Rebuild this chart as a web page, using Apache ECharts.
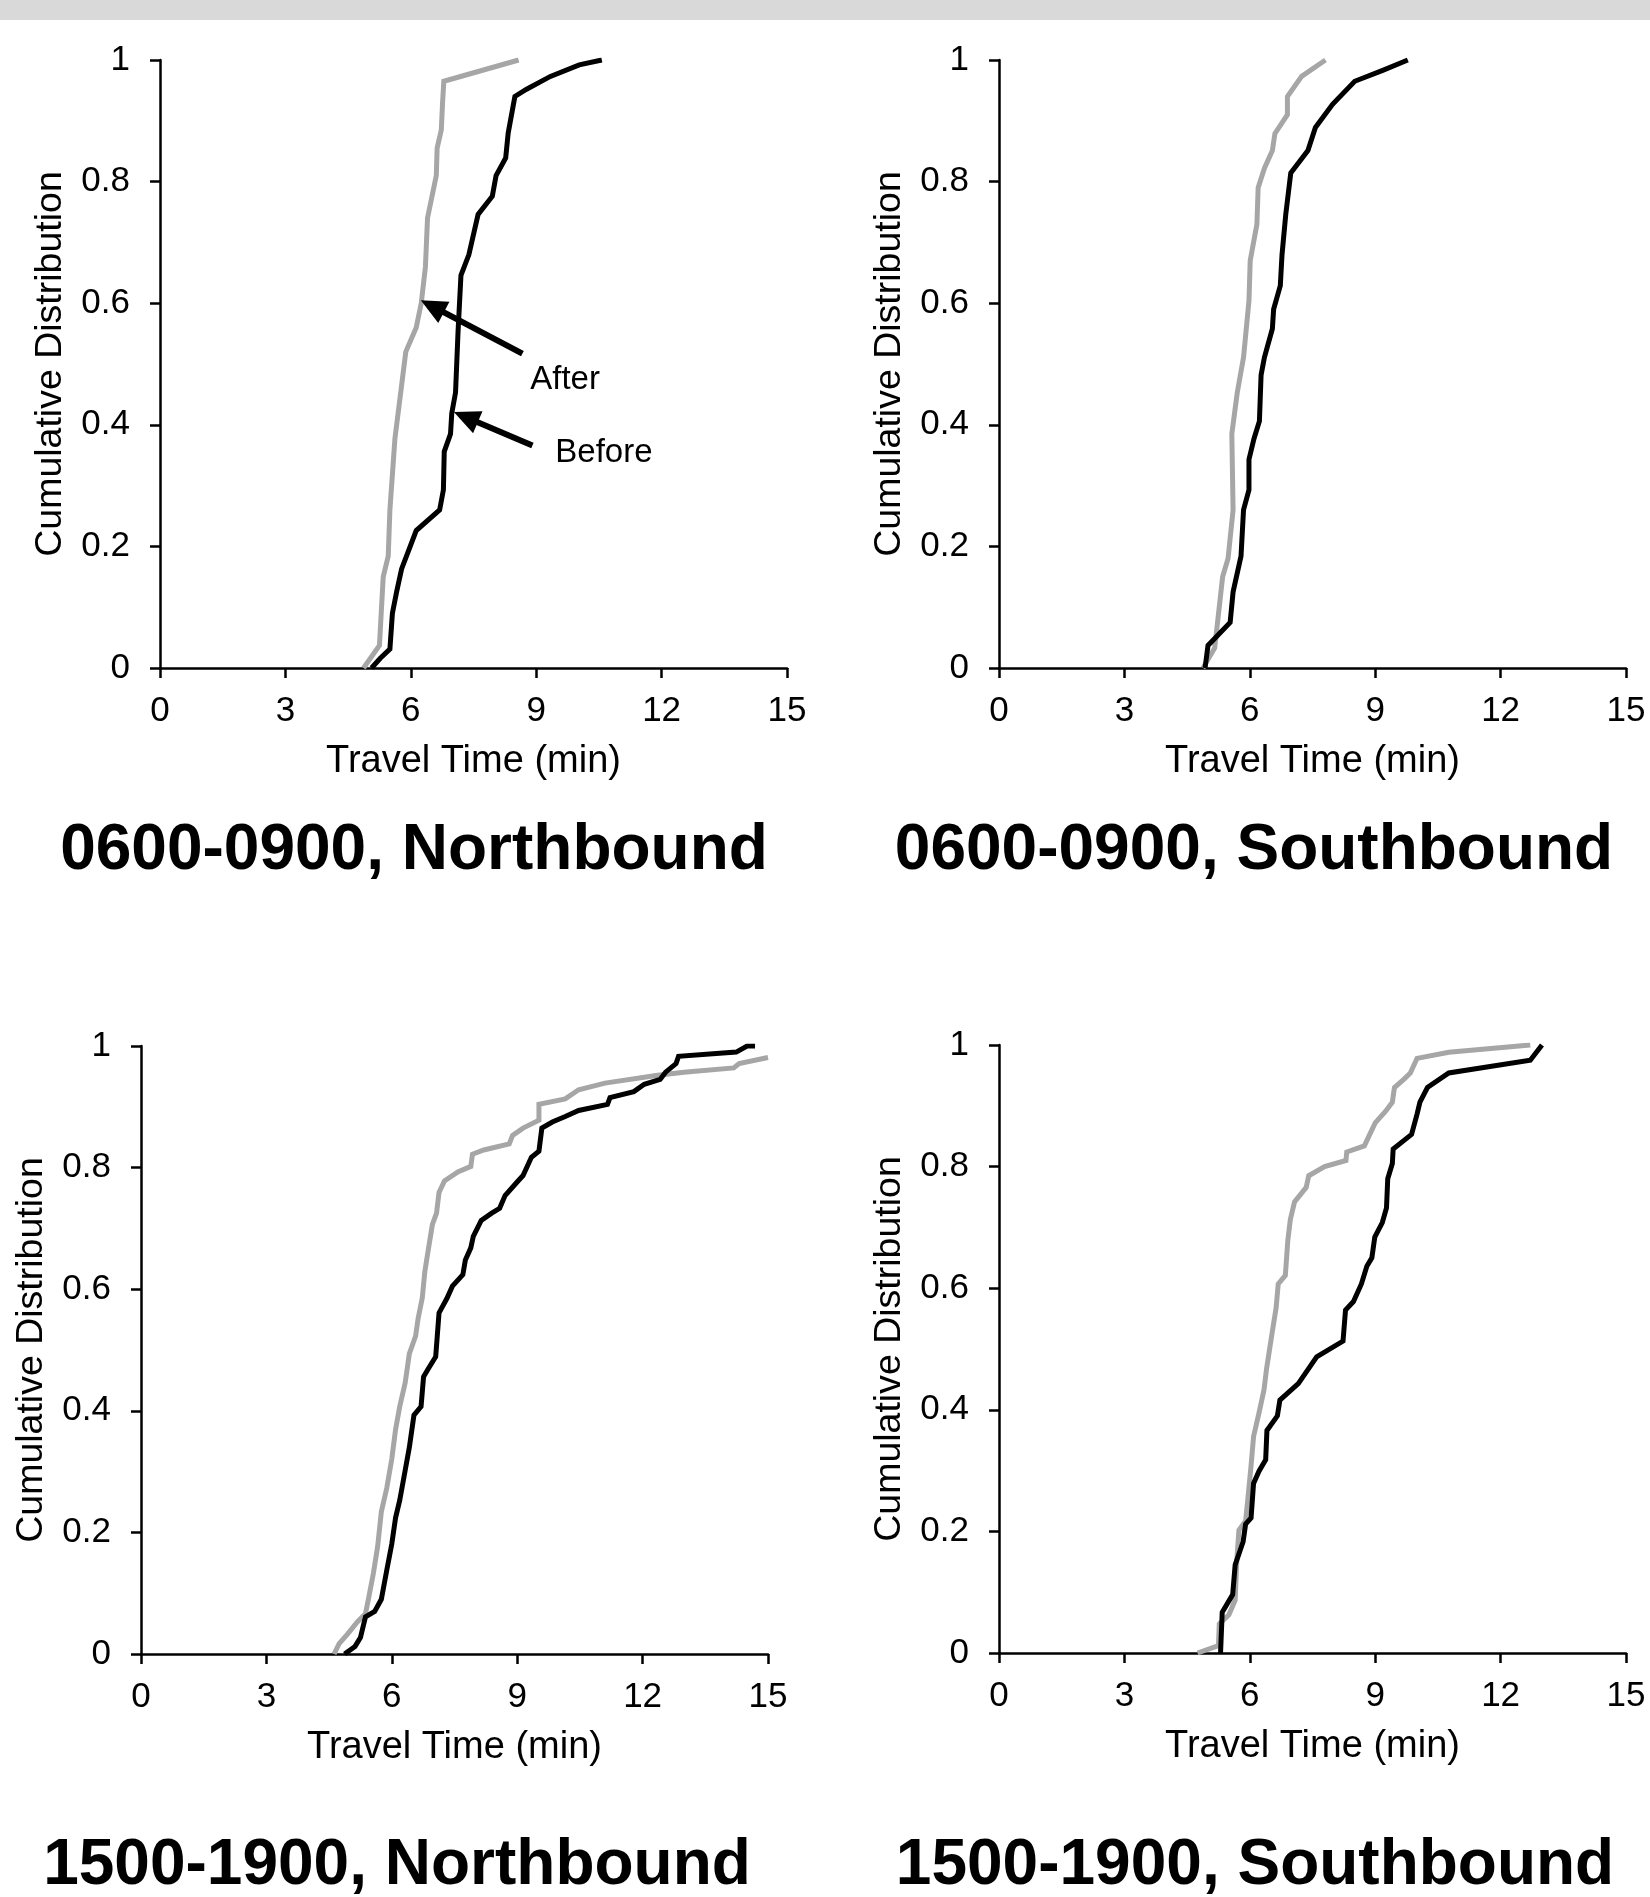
<!DOCTYPE html>
<html><head><meta charset="utf-8">
<script src="https://cdn.jsdelivr.net/npm/echarts@6/dist/echarts.min.js"></script>
<style>html,body{margin:0;padding:0;background:#fff}#c{width:1650px;height:1897px}</style>
</head><body><div id="c"></div><script>
// ---------- data ----------
const panelTitles = ['0600-0900, Northbound', '0600-0900, Southbound', '1500-1900, Northbound', '1500-1900, Southbound'];
const xName = 'Travel Time (min)';
const yName = 'Cumulative Distribution';
const xTickLabels = ['0', '3', '6', '9', '12', '15'];
const yTickLabels = ['0', '0.2', '0.4', '0.6', '0.8', '1'];
const seriesNames = ['After', 'Before'];

const amNorthAfter = [[4.87,0],[5.25,0.037],[5.34,0.15],[5.46,0.184],[5.5,0.26],[5.62,0.377],[5.88,0.52],[6.13,0.56],[6.25,0.6],[6.35,0.66],[6.4,0.74],[6.61,0.81],[6.63,0.855],[6.73,0.885],[6.76,0.93],[6.79,0.965],[8.58,1.0]];
const amNorthBefore = [[5.06,0],[5.27,0.016],[5.5,0.031],[5.56,0.09],[5.66,0.125],[5.78,0.163],[5.94,0.192],[6.13,0.226],[6.69,0.26],[6.78,0.293],[6.8,0.356],[6.95,0.385],[6.98,0.419],[7.07,0.453],[7.13,0.553],[7.2,0.646],[7.39,0.68],[7.61,0.746],[7.95,0.776],[8.04,0.81],[8.27,0.839],[8.33,0.88],[8.49,0.94],[8.77,0.952],[9.34,0.973],[10.03,0.992],[10.57,1.0]];
const amSouthAfter = [[4.88,0],[5.16,0.033],[5.35,0.15],[5.48,0.18],[5.6,0.26],[5.57,0.385],[5.7,0.453],[5.85,0.511],[5.98,0.604],[6.01,0.67],[6.17,0.73],[6.2,0.79],[6.35,0.822],[6.54,0.851],[6.6,0.879],[6.9,0.91],[6.9,0.94],[7.24,0.973],[7.81,1.0]];
const amSouthBefore = [[4.93,0],[5.0,0.037],[5.53,0.075],[5.6,0.125],[5.79,0.184],[5.85,0.26],[5.98,0.293],[5.98,0.343],[6.1,0.377],[6.23,0.406],[6.27,0.482],[6.35,0.511],[6.54,0.558],[6.57,0.59],[6.73,0.629],[6.77,0.679],[6.86,0.746],[6.92,0.78],[6.98,0.814],[7.39,0.851],[7.57,0.889],[7.98,0.927],[8.51,0.965],[9.18,0.983],[9.78,1.0]];
const pmNorthAfter = [[4.62,0],[4.74,0.017],[4.93,0.032],[5.18,0.053],[5.37,0.066],[5.44,0.09],[5.56,0.133],[5.66,0.176],[5.75,0.234],[5.88,0.273],[6.0,0.321],[6.09,0.369],[6.19,0.407],[6.32,0.446],[6.42,0.494],[6.57,0.523],[6.63,0.552],[6.73,0.586],[6.79,0.629],[6.88,0.668],[6.97,0.706],[7.07,0.725],[7.13,0.759],[7.26,0.778],[7.58,0.793],[7.89,0.802],[7.93,0.822],[8.2,0.829],[8.81,0.839],[8.89,0.853],[9.14,0.865],[9.52,0.878],[9.52,0.904],[10.15,0.913],[10.47,0.928],[11.1,0.939],[12.36,0.952],[12.99,0.957],[14.18,0.964],[14.31,0.971],[15.0,0.981]];
const pmNorthBefore = [[4.87,0],[5.12,0.0125],[5.25,0.027],[5.37,0.061],[5.59,0.07],[5.75,0.09],[5.88,0.138],[6.0,0.181],[6.09,0.224],[6.19,0.253],[6.32,0.302],[6.42,0.34],[6.53,0.393],[6.7,0.407],[6.76,0.456],[6.88,0.47],[7.05,0.489],[7.13,0.561],[7.32,0.585],[7.45,0.605],[7.7,0.624],[7.76,0.648],[7.89,0.668],[7.95,0.687],[8.14,0.713],[8.39,0.725],[8.58,0.733],[8.71,0.754],[9.02,0.778],[9.14,0.787],[9.34,0.817],[9.52,0.827],[9.59,0.865],[9.84,0.875],[10.15,0.884],[10.47,0.894],[11.16,0.904],[11.22,0.915],[11.79,0.925],[12.04,0.937],[12.42,0.945],[12.55,0.957],[12.8,0.971],[12.86,0.983],[14.24,0.99],[14.5,1.0],[14.69,1.0]];
const pmSouthAfter = [[4.75,0],[5.25,0.012],[5.27,0.048],[5.5,0.063],[5.65,0.087],[5.69,0.154],[5.74,0.202],[5.9,0.217],[5.97,0.265],[6.03,0.308],[6.09,0.356],[6.22,0.395],[6.34,0.433],[6.4,0.467],[6.53,0.525],[6.63,0.568],[6.68,0.607],[6.85,0.621],[6.91,0.679],[6.97,0.713],[7.07,0.742],[7.35,0.766],[7.41,0.785],[7.79,0.8],[8.3,0.81],[8.32,0.824],[8.74,0.834],[8.87,0.853],[9.0,0.872],[9.25,0.891],[9.41,0.906],[9.46,0.93],[9.69,0.944],[9.84,0.954],[10.0,0.978],[10.76,0.988],[12.71,1.0]];
const pmSouthBefore = [[5.3,0],[5.34,0.067],[5.59,0.096],[5.65,0.145],[5.84,0.183],[5.9,0.212],[6.03,0.222],[6.09,0.279],[6.22,0.299],[6.38,0.318],[6.41,0.366],[6.66,0.39],[6.72,0.416],[7.16,0.443],[7.6,0.487],[8.23,0.513],[8.29,0.564],[8.48,0.578],[8.67,0.607],[8.8,0.636],[8.92,0.65],[8.99,0.684],[9.17,0.708],[9.27,0.732],[9.3,0.78],[9.41,0.805],[9.43,0.829],[9.87,0.853],[10.0,0.886],[10.07,0.906],[10.25,0.93],[10.76,0.954],[12.71,0.975],[12.99,1.0]];

// annotation (panel 1) in data coordinates
const annotationTexts = ['After', 'Before'];
const annotationTextAt = [[9.69, 0.474], [10.62, 0.354]];
const arrowFrom = [[8.67, 0.517], [8.91, 0.366]];
const arrowTo = [[6.24, 0.605], [7.03, 0.421]];

// ---------- layout / style ----------
const FONT = '"Liberation Sans", Arial, Helvetica, sans-serif';
const grids = [
  {left: 160, top: 60, width: 627, height: 608},
  {left: 999, top: 60, width: 627, height: 608},
  {left: 141, top: 1046, width: 627, height: 608},
  {left: 999, top: 1045, width: 627, height: 608}
];
const titlePos = [[414, 851], [1254, 851], [397, 1866], [1255, 1866]];
const panelData = [
  [amNorthAfter, amNorthBefore],
  [amSouthAfter, amSouthBefore],
  [pmNorthAfter, pmNorthBefore],
  [pmSouthAfter, pmSouthBefore]
];
const seriesColors = ['#a6a6a6', '#000000'];
const seriesWidths = [5, 5];

const axisLineStyle = {color: '#000', width: 2.5};
const xAxes = grids.map((g, i) => ({
  type: 'value', gridIndex: i, min: 0, max: 15, interval: 3,
  name: xName, nameLocation: 'middle', nameGap: 75,
  nameTextStyle: {fontSize: 38, color: '#000', fontFamily: FONT},
  axisLine: {show: true, onZero: false, lineStyle: axisLineStyle},
  axisTick: {show: true, length: 10, lineStyle: axisLineStyle},
  axisLabel: {fontSize: 35, color: '#000', margin: 26, fontFamily: FONT,
    formatter: v => xTickLabels[Math.round(v / 3)]},
  splitLine: {show: false}
}));
const yAxes = grids.map((g, i) => ({
  type: 'value', gridIndex: i, min: 0, max: 1, interval: 0.2,
  name: yName, nameLocation: 'middle', nameGap: 90,
  nameTextStyle: {fontSize: 37.5, color: '#000', fontFamily: FONT},
  axisLine: {show: true, onZero: false, lineStyle: axisLineStyle},
  axisTick: {show: true, length: 10, lineStyle: axisLineStyle},
  axisLabel: {fontSize: 35, color: '#000', margin: 30, fontFamily: FONT,
    formatter: v => yTickLabels[Math.round(v / 0.2)]},
  splitLine: {show: false}
}));

const series = [];
panelData.forEach((pair, i) => {
  pair.forEach((d, k) => {
    series.push({
      type: 'line', name: seriesNames[k], xAxisIndex: i, yAxisIndex: i,
      data: d, showSymbol: false, symbol: 'none', silent: true,
      lineStyle: {color: seriesColors[k], width: seriesWidths[k], join: 'miter'},
      z: 2 + k
    });
  });
});

const chart = echarts.init(document.getElementById('c'), null, {renderer: 'canvas'});
chart.setOption({
  animation: false,
  backgroundColor: '#ffffff',
  grid: grids.map(g => Object.assign({containLabel: false}, g)),
  xAxis: xAxes,
  yAxis: yAxes,
  series: series
});

// graphics: top band, panel titles, annotation arrows and labels
const graphics = [
  {type: 'rect', shape: {x: 0, y: 0, width: 1650, height: 20}, style: {fill: '#d9d9d9'}, z: 0}
];
panelTitles.forEach((t, i) => {
  graphics.push({
    type: 'text', x: titlePos[i][0], y: titlePos[i][1], z: 10,
    style: {text: t, font: 'bold 64px ' + FONT, fill: '#000',
      textAlign: 'center', textVerticalAlign: 'middle', align: 'center', verticalAlign: 'middle'}
  });
});
annotationTexts.forEach((t, i) => {
  const p = chart.convertToPixel({gridIndex: 0}, annotationTextAt[i]);
  graphics.push({
    type: 'text', x: p[0], y: p[1], z: 10,
    style: {text: t, font: '33px ' + FONT, fill: '#000',
      textAlign: 'center', textVerticalAlign: 'middle', align: 'center', verticalAlign: 'middle'}
  });
  const a = chart.convertToPixel({gridIndex: 0}, arrowFrom[i]);
  const b = chart.convertToPixel({gridIndex: 0}, arrowTo[i]);
  const dx = b[0] - a[0], dy = b[1] - a[1];
  const len = Math.sqrt(dx * dx + dy * dy);
  const ux = dx / len, uy = dy / len;
  const headL = 26, headW = 12;
  const bx = b[0] - ux * headL, by = b[1] - uy * headL;
  graphics.push({
    type: 'line', z: 10,
    shape: {x1: a[0], y1: a[1], x2: bx + ux * 2, y2: by + uy * 2},
    style: {stroke: '#000', lineWidth: 6}
  });
  graphics.push({
    type: 'polygon', z: 10,
    shape: {points: [[b[0], b[1]], [bx - uy * headW, by + ux * headW], [bx + uy * headW, by - ux * headW]]},
    style: {fill: '#000'}
  });
});
chart.setOption({graphic: graphics});
</script></body></html>
